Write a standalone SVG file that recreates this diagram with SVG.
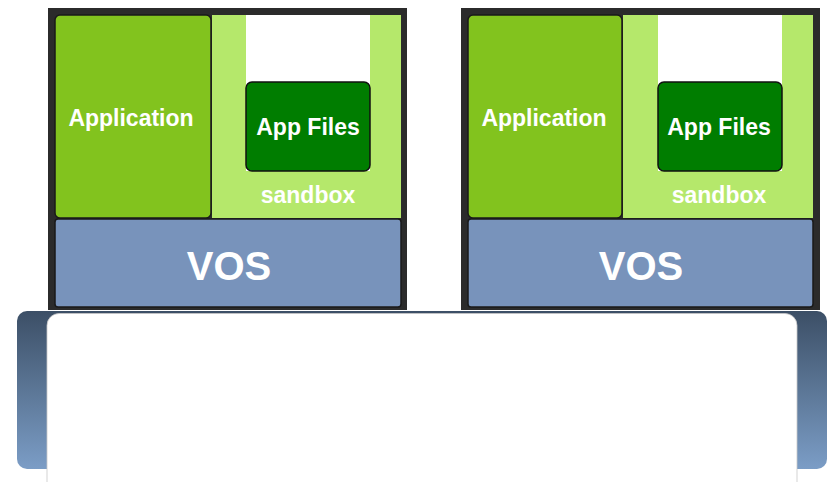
<svg xmlns="http://www.w3.org/2000/svg" width="828" height="482" viewBox="0 0 828 482">
<defs>
<linearGradient id="baseGrad" x1="0" y1="0" x2="0" y2="1">
<stop offset="0" stop-color="#3c4f66"/>
<stop offset="1" stop-color="#7b9dc6"/>
</linearGradient>
<style>
.frame{fill:#2b2b2b}
.app{fill:#82c31e;stroke:#1a1a1a;stroke-width:1.5}
.sand{fill:#b5e86b}
.hole{fill:#ffffff}
.files{fill:#007d00;stroke:#111;stroke-width:1.5}
.vos{fill:#7893bb;stroke:#1a1a1a;stroke-width:1.5}
.t{font-family:"Liberation Sans",Arial,sans-serif;font-weight:bold;fill:#ffffff;text-anchor:middle}
.t23{font-size:23px}
.t40{font-size:40px}
</style>
</defs>
<rect width="828" height="482" fill="#ffffff"/>
<g id="base">
<rect x="17" y="311" width="810" height="158" rx="10" fill="url(#baseGrad)"/>
<rect x="47" y="313.5" width="750" height="185" rx="12" fill="#ffffff" stroke="#c8c8c8" stroke-width="0.8"/>
</g>
<g id="host-left">
<rect class="frame" x="48" y="8" width="359" height="302"/>
<g id="app-left">
<rect class="app" x="55" y="15" width="156" height="203" rx="5"/>
<text class="t t23" x="131" y="126">Application</text>
</g>
<g id="sandbox-left">
<rect class="sand" x="212" y="15" width="189" height="203"/>
<rect class="hole" x="246" y="15" width="124" height="156"/>
<text class="t t23" x="308" y="203">sandbox</text>
</g>
<g id="files-left">
<rect class="files" x="246" y="82" width="124" height="89" rx="6"/>
<text class="t t23" x="308" y="135">App Files</text>
</g>
<g id="vos-left">
<rect class="vos" x="55" y="219" width="346" height="88" rx="3"/>
<text class="t t40" x="229" y="280">VOS</text>
</g>
</g>
<g id="host-right">
<rect class="frame" x="461" y="8" width="359" height="302"/>
<g id="app-right">
<rect class="app" x="468" y="15" width="154" height="203" rx="5"/>
<text class="t t23" x="544" y="126">Application</text>
</g>
<g id="sandbox-right">
<rect class="sand" x="623" y="15" width="190" height="203"/>
<rect class="hole" x="658" y="15" width="124" height="156"/>
<text class="t t23" x="719" y="203">sandbox</text>
</g>
<g id="files-right">
<rect class="files" x="658" y="82" width="124" height="89" rx="6"/>
<text class="t t23" x="719" y="135">App Files</text>
</g>
<g id="vos-right">
<rect class="vos" x="468" y="219" width="345" height="88" rx="3"/>
<text class="t t40" x="641" y="280">VOS</text>
</g>
</g>
<g id="connectors"/>
</svg>
